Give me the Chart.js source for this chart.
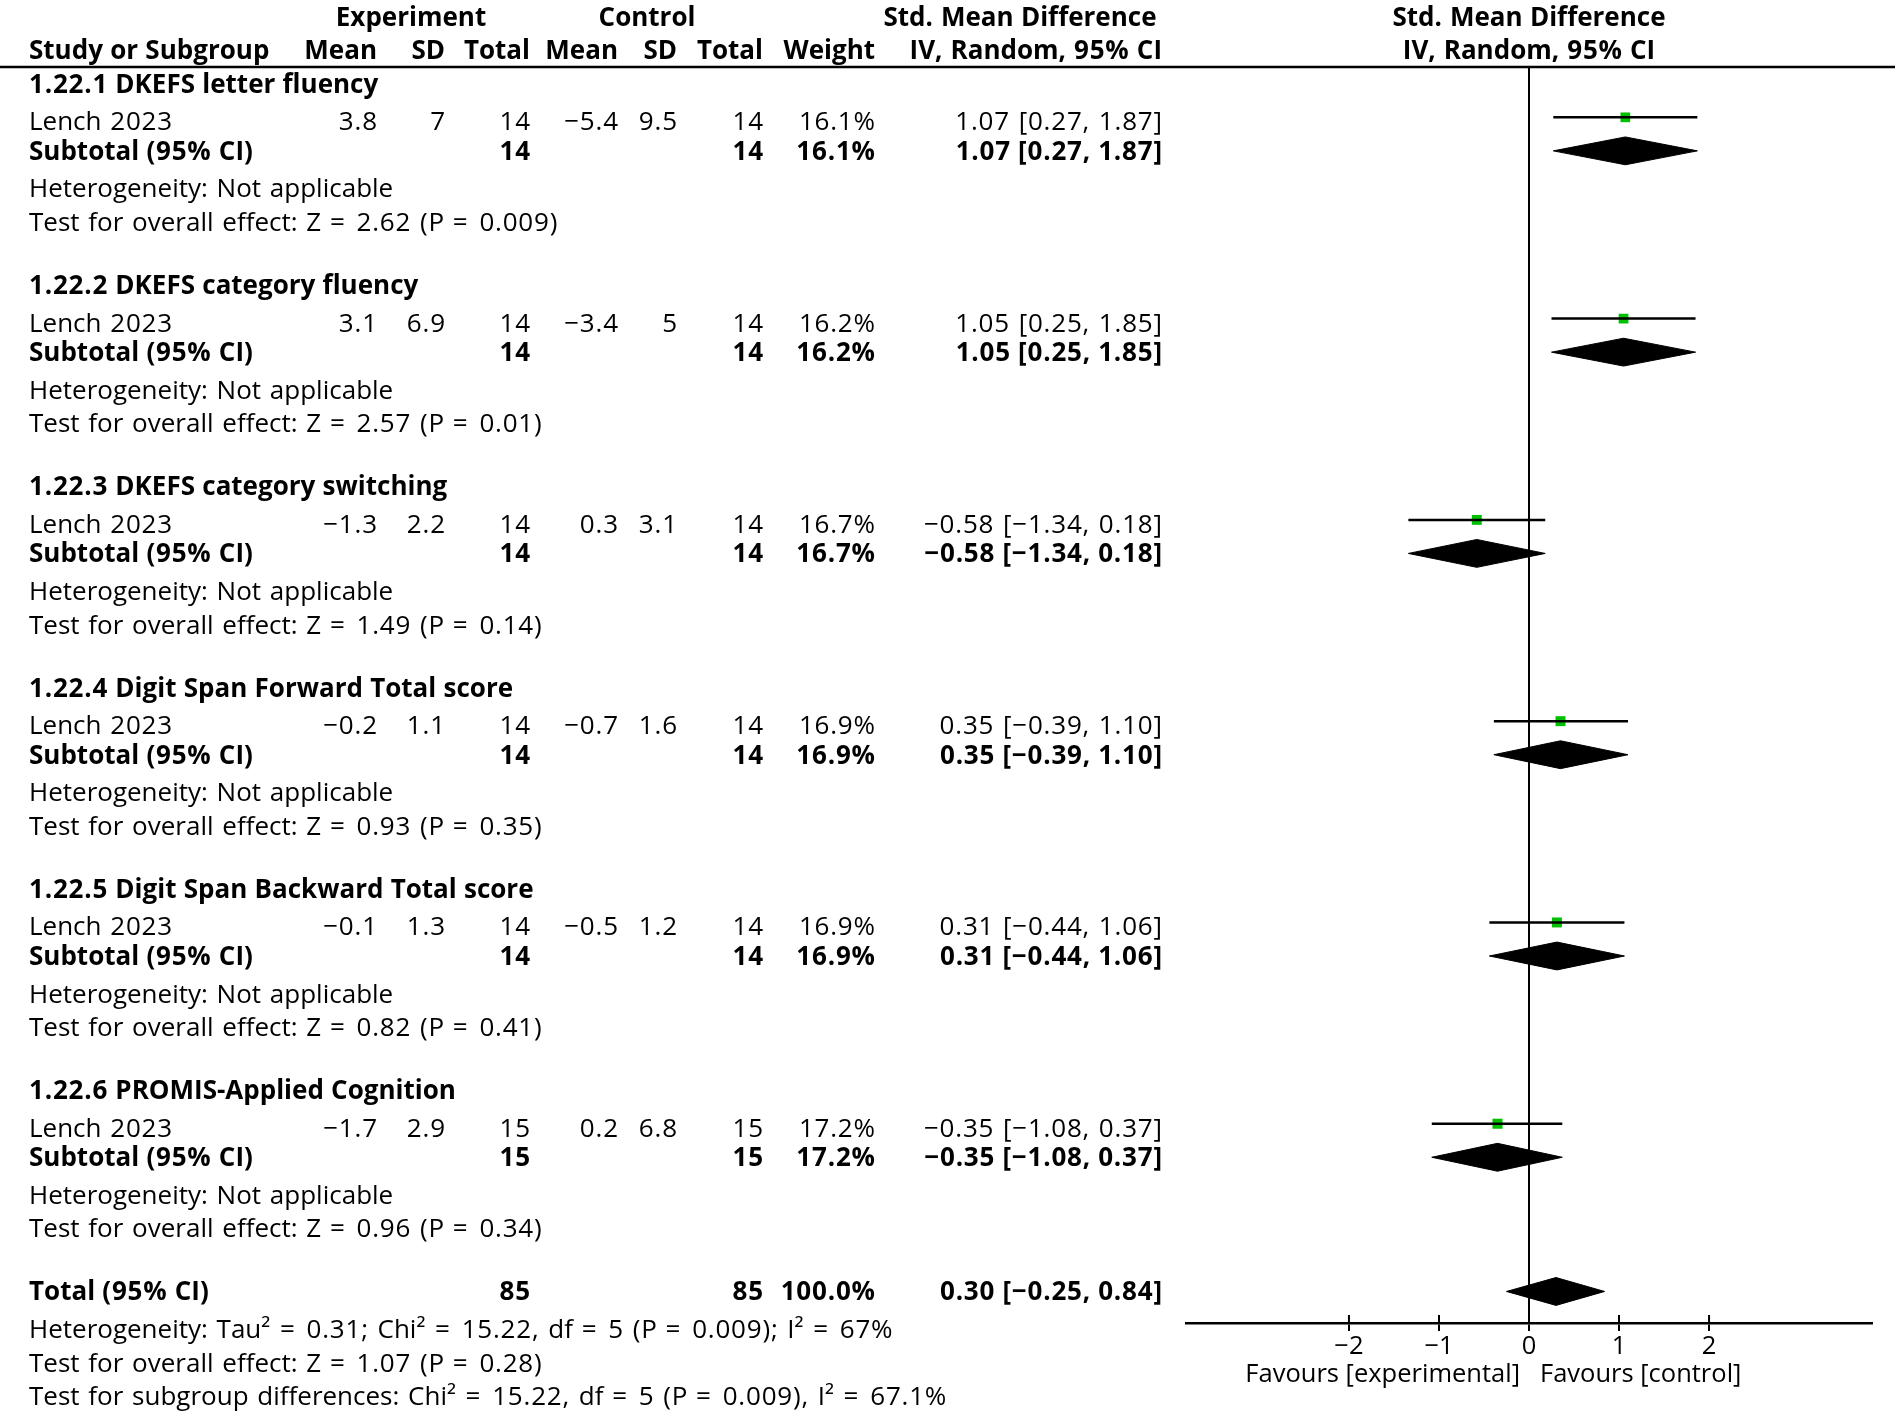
<!DOCTYPE html>
<html><head><meta charset="utf-8">
<script src="https://cdn.jsdelivr.net/npm/chart.js@4.4.1/dist/chart.umd.min.js"></script>
<style>html,body{margin:0;padding:0;background:#fff}canvas{display:block}</style>
</head><body>
<canvas id="c" width="1902" height="1414"></canvas>
<script>
// ---------------- data ----------------
const subgroupTitles = [
  '1.22.1 DKEFS letter fluency',
  '1.22.2 DKEFS category fluency',
  '1.22.3 DKEFS category switching',
  '1.22.4 Digit Span Forward Total score',
  '1.22.5 Digit Span Backward Total score',
  '1.22.6 PROMIS-Applied Cognition'
];
const studyNames = ['Lench 2023','Lench 2023','Lench 2023','Lench 2023','Lench 2023','Lench 2023'];
const expMean  = [3.8, 3.1, -1.3, -0.2, -0.1, -1.7];
const expSD    = [7, 6.9, 2.2, 1.1, 1.3, 2.9];
const expTotal = [14, 14, 14, 14, 14, 15];
const ctlMean  = [-5.4, -3.4, 0.3, -0.7, -0.5, 0.2];
const ctlSD    = [9.5, 5, 3.1, 1.6, 1.2, 6.8];
const ctlTotal = [14, 14, 14, 14, 14, 15];
const weights  = [16.1, 16.2, 16.7, 16.9, 16.9, 17.2];
const smd      = [1.07, 1.05, -0.58, 0.35, 0.31, -0.35];
const ciLow    = [0.27, 0.25, -1.34, -0.39, -0.44, -1.08];
const ciHigh   = [1.87, 1.85, 0.18, 1.10, 1.06, 0.37];
const zValues  = ['2.62', '2.57', '1.49', '0.93', '0.82', '0.96'];
const pValues  = ['0.009', '0.01', '0.14', '0.35', '0.41', '0.34'];

const totalN      = [85, 85];            // experiment, control
const totalWeight = 100.0;
const totalEffect = [0.30, -0.25, 0.84]; // estimate, low, high
const totalHet    = ['0.31', '15.22', '5', '0.009', '67'];   // Tau², Chi², df, P, I²
const totalTest   = ['1.07', '0.28'];                        // Z, P
const subgroupTest = ['15.22', '5', '0.009', '67.1'];        // Chi², df, P, I²

const xTicks = [-2, -1, 0, 1, 2];
const xLabels = ['Favours [experimental]', 'Favours [control]'];

// ---------------- layout constants ----------------
const W = 1902, H = 1414;
const FONT = '"Open Sans"';
const FS = 26;
const FS_AXIS = 25.5;
const ROWS_PER_GROUP = 6;
const TOTAL_ROW = subgroupTitles.length * ROWS_PER_GROUP;
const Y_MIN = -0.5, Y_AXIS = TOTAL_ROW + 0.94;
const D = 0.415;            // diamond half height in row units
const OFF_BOLD = 9, OFF_REG = 13;
const COL = {left: 29, expMean: 377, expSD: 445, expTotal: 530, ctlMean: 618, ctlSD: 677,
             ctlTotal: 763, weight: 875, ci: 1162, expHead: 411, ctlHead: 647, ciHead: 1020};

const minus = s => String(s).replace(/-/g, '\u2212');
const f2 = v => minus(v.toFixed(2));
const ciText = (e, l, h) => `${f2(e)} [${f2(l)}, ${f2(h)}]`;
const studyRow = g => g * ROWS_PER_GROUP + 1;
const subRow = g => g * ROWS_PER_GROUP + 2;

// extra tracking to mimic the wider figures / spaces of the original typeface
function extraFor(ch, bold) {
  if (ch === ' ') return bold ? 0.5 : 2;
  if (ch === '=') return 3;
  if (/[0-9.,;%\[\]()\u2212\u00b2]/.test(ch)) return 0.8;
  return 0;
}

// ---------------- datasets ----------------
const datasets = [];
datasets.push({
  data: [{x: 0, y: Y_MIN}, {x: 0, y: Y_AXIS}],
  borderColor: '#000', borderWidth: 2, pointRadius: 0, clip: false
});
smd.forEach((e, g) => {
  datasets.push({
    data: [{x: ciLow[g], y: studyRow(g)}, {x: ciHigh[g], y: studyRow(g)}],
    borderColor: '#000', borderWidth: 2.5, pointRadius: 0
  });
});
datasets.push({
  data: smd.map((e, g) => ({x: e, y: studyRow(g)})),
  showLine: false, pointStyle: 'rect',
  pointRadius: weights.map(w => 7 * Math.sqrt(w / 16.7)),
  backgroundColor: '#00c000', borderWidth: 0
});
function addDiamond(e, l, h, r) {
  datasets.push({
    data: [{x: l, y: r}, {x: e, y: r - D}, {x: h, y: r}],
    borderColor: '#000', borderWidth: 1, pointRadius: 0, tension: 0, fill: false
  });
  datasets.push({
    data: [{x: l, y: r}, {x: e, y: r + D}, {x: h, y: r}],
    borderColor: '#000', borderWidth: 1, pointRadius: 0, tension: 0,
    fill: '-1', backgroundColor: '#000'
  });
}
smd.forEach((e, g) => addDiamond(e, ciLow[g], ciHigh[g], subRow(g)));
addDiamond(totalEffect[0], totalEffect[1], totalEffect[2], TOTAL_ROW);

// ---------------- text plugin ----------------
const textPlugin = {
  id: 'forestText',
  beforeDraw(chart) {
    const ctx = chart.ctx;
    ctx.save(); ctx.fillStyle = '#fff'; ctx.fillRect(0, 0, W, H); ctx.restore();
  },
  afterDraw(chart) {
    const ctx = chart.ctx, ys = chart.scales.y, xs = chart.scales.x, ca = chart.chartArea;
    const zero = xs.getPixelForValue(0);
    const T = (s, x, r, align, bold) => {
      ctx.font = `${bold ? 'bold ' : ''}${FS}px ${FONT}`;
      ctx.textAlign = 'left';
      ctx.textBaseline = 'alphabetic';
      const y = ys.getPixelForValue(r) + (bold ? OFF_BOLD : OFF_REG);
      const chars = Array.from(s);
      const pos = [];
      let extra = 0, prefix = '';
      chars.forEach(ch => { pos.push(ctx.measureText(prefix).width + extra); prefix += ch; extra += extraFor(ch, bold); });
      const total = ctx.measureText(prefix).width + extra - extraFor(chars[chars.length - 1], bold);
      let x0 = x;
      if (align === 'right') x0 = x - total;
      else if (align === 'center') x0 = x - total / 2;
      chars.forEach((ch, i) => ctx.fillText(ch, x0 + pos[i], y));
    };
    ctx.save();
    ctx.fillStyle = '#000';
    // header rule
    ctx.strokeStyle = '#000'; ctx.lineWidth = 2.5;
    ctx.beginPath(); ctx.moveTo(0, ca.top); ctx.lineTo(1895, ca.top); ctx.stroke();
    // upper halves of the axis ticks
    ctx.lineWidth = 2;
    xTicks.forEach(v => {
      const px = xs.getPixelForValue(v);
      ctx.beginPath(); ctx.moveTo(px, ca.bottom - 8); ctx.lineTo(px, ca.bottom); ctx.stroke();
    });
    // headers
    T('Experiment', COL.expHead, -2, 'center', true);
    T('Control', COL.ctlHead, -2, 'center', true);
    T('Std. Mean Difference', COL.ciHead, -2, 'center', true);
    T('Std. Mean Difference', zero, -2, 'center', true);
    T('Study or Subgroup', COL.left, -1, 'left', true);
    T('Mean', COL.expMean, -1, 'right', true);
    T('SD', COL.expSD, -1, 'right', true);
    T('Total', COL.expTotal, -1, 'right', true);
    T('Mean', COL.ctlMean, -1, 'right', true);
    T('SD', COL.ctlSD, -1, 'right', true);
    T('Total', COL.ctlTotal, -1, 'right', true);
    T('Weight', COL.weight, -1, 'right', true);
    T('IV, Random, 95% CI', COL.ci, -1, 'right', true);
    T('IV, Random, 95% CI', zero, -1, 'center', true);
    // groups
    subgroupTitles.forEach((title, g) => {
      const b = g * ROWS_PER_GROUP;
      T(title, COL.left, b, 'left', true);
      T(studyNames[g], COL.left, b + 1, 'left');
      T(minus(expMean[g]), COL.expMean, b + 1, 'right');
      T(minus(expSD[g]), COL.expSD, b + 1, 'right');
      T(String(expTotal[g]), COL.expTotal, b + 1, 'right');
      T(minus(ctlMean[g]), COL.ctlMean, b + 1, 'right');
      T(minus(ctlSD[g]), COL.ctlSD, b + 1, 'right');
      T(String(ctlTotal[g]), COL.ctlTotal, b + 1, 'right');
      T(weights[g].toFixed(1) + '%', COL.weight, b + 1, 'right');
      T(ciText(smd[g], ciLow[g], ciHigh[g]), COL.ci, b + 1, 'right');
      T('Subtotal (95% CI)', COL.left, b + 2, 'left', true);
      T(String(expTotal[g]), COL.expTotal, b + 2, 'right', true);
      T(String(ctlTotal[g]), COL.ctlTotal, b + 2, 'right', true);
      T(weights[g].toFixed(1) + '%', COL.weight, b + 2, 'right', true);
      T(ciText(smd[g], ciLow[g], ciHigh[g]), COL.ci, b + 2, 'right', true);
      T('Heterogeneity: Not applicable', COL.left, b + 3, 'left');
      T(`Test for overall effect: Z = ${zValues[g]} (P = ${pValues[g]})`, COL.left, b + 4, 'left');
    });
    // total
    T('Total (95% CI)', COL.left, TOTAL_ROW, 'left', true);
    T(String(totalN[0]), COL.expTotal, TOTAL_ROW, 'right', true);
    T(String(totalN[1]), COL.ctlTotal, TOTAL_ROW, 'right', true);
    T(totalWeight.toFixed(1) + '%', COL.weight, TOTAL_ROW, 'right', true);
    T(ciText(totalEffect[0], totalEffect[1], totalEffect[2]), COL.ci, TOTAL_ROW, 'right', true);
    T(`Heterogeneity: Tau\u00b2 = ${totalHet[0]}; Chi\u00b2 = ${totalHet[1]}, df = ${totalHet[2]} (P = ${totalHet[3]}); I\u00b2 = ${totalHet[4]}%`, COL.left, TOTAL_ROW + 1, 'left');
    T(`Test for overall effect: Z = ${totalTest[0]} (P = ${totalTest[1]})`, COL.left, TOTAL_ROW + 2, 'left');
    T(`Test for subgroup differences: Chi\u00b2 = ${subgroupTest[0]}, df = ${subgroupTest[1]} (P = ${subgroupTest[2]}), I\u00b2 = ${subgroupTest[3]}%`, COL.left, TOTAL_ROW + 3, 'left');
    // favours labels
    ctx.font = `${FS_AXIS}px ${FONT}`;
    ctx.textBaseline = 'alphabetic';
    ctx.textAlign = 'right'; ctx.fillText(xLabels[0], zero - 9, ca.bottom + 59);
    ctx.textAlign = 'left'; ctx.fillText(xLabels[1], zero + 11, ca.bottom + 59);
    ctx.restore();
  }
};

new Chart(document.getElementById('c'), {
  type: 'line',
  data: {datasets},
  options: {
    responsive: false, animation: false, devicePixelRatio: 1,
    layout: {padding: {left: 1186, right: 30, top: 67, bottom: 0}},
    plugins: {legend: {display: false}, tooltip: {enabled: false}},
    scales: {
      x: {
        type: 'linear', position: 'bottom', min: -3.81, max: 3.81,
        afterBuildTicks: s => { s.ticks = xTicks.map(v => ({value: v})); },
        afterFit: s => { s.height = 91; },
        ticks: {color: '#000', font: {family: 'Open Sans', size: FS_AXIS}, padding: 0,
                autoSkip: false, maxRotation: 0, callback: v => minus(v)},
        grid: {drawOnChartArea: false, drawTicks: true, tickLength: 8, color: '#000', lineWidth: 2},
        border: {display: true, color: '#000', width: 2.5}
      },
      y: {type: 'linear', reverse: true, min: Y_MIN, max: Y_AXIS, display: false}
    }
  },
  plugins: [textPlugin]
});
</script>
</body></html>
